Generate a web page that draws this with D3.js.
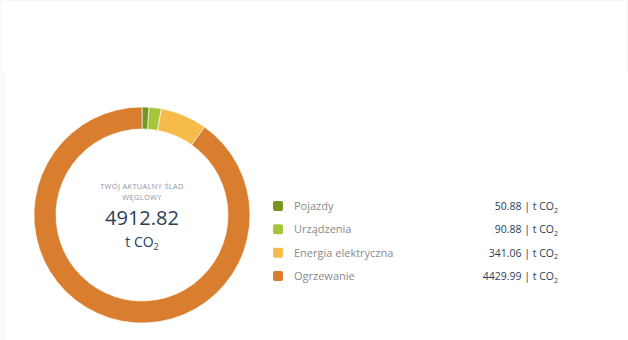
<!DOCTYPE html>
<html>
<head>
<meta charset="utf-8">
<script src="https://cdn.jsdelivr.net/npm/d3@7"></script>
<style>
  html, body { margin: 0; padding: 0; background: #ffffff; }
  svg { display: block; font-family: "Open Sans", "Noto Sans", sans-serif; }
</style>
</head>
<body>
<svg id="chart" width="628" height="340"></svg>
<script>
const categories = ["Pojazdy", "Urządzenia", "Energia elektryczna", "Ogrzewanie"];
const values = [50.88, 90.88, 341.06, 4429.99];
const colors = ["#76961f", "#a5c63b", "#f7bb49", "#d97e2e"];
const totalLabel = "4912.82";
const centerTitle = ["TWÓJ AKTUALNY ŚLAD", "WĘGLOWY"];
const unit = "t CO";

const svg = d3.select("#chart");

// page background pieces
svg.append("rect").attr("x", 0).attr("y", 0).attr("width", 628).attr("height", 340).attr("fill", "#ffffff");
svg.append("rect").attr("x", 0).attr("y", 72).attr("width", 6).attr("height", 268).attr("fill", "#f6faff");
svg.append("path").attr("d", "M0.5,72 V0.5 H627.5 V72").attr("fill", "none").attr("stroke", "#f4f8fc");

const cx = 142, cy = 215, rOuter = 108, rInner = 86;
const data = categories.map((c, i) => ({ name: c, value: values[i], color: colors[i] }));

const pie = d3.pie().value(d => d.value).sort(null);
const arc = d3.arc().innerRadius(rInner).outerRadius(rOuter);

const g = svg.append("g").attr("transform", `translate(${cx},${cy})`);
g.selectAll("path").data(pie(data)).join("path")
  .attr("d", arc)
  .attr("fill", d => d.data.color)
  .attr("stroke", "#ffffff")
  .attr("stroke-width", 0.6);

// center text
g.append("text").attr("text-anchor", "middle").attr("y", -26)
  .attr("font-size", 7.4).attr("fill", "#8c96a3").attr("letter-spacing", 0.35)
  .text(centerTitle[0]);
g.append("text").attr("text-anchor", "middle").attr("y", -15)
  .attr("font-size", 7.4).attr("fill", "#8c96a3").attr("letter-spacing", 0.35)
  .text(centerTitle[1]);
g.append("text").attr("text-anchor", "middle").attr("y", 10)
  .attr("font-size", 20).attr("font-weight", 500).attr("fill", "#2c3e55")
  .text(totalLabel);
const u = g.append("text").attr("text-anchor", "middle").attr("y", 32)
  .attr("font-size", 14).attr("font-weight", 500).attr("fill", "#2c3e55");
u.append("tspan").text(unit);
u.append("tspan").attr("font-size", 9).attr("dy", 3).text("2");

// legend
const rowY = d3.scalePoint().domain(categories).range([206, 276]);
const leg = svg.append("g");
const rows = leg.selectAll("g").data(data).join("g")
  .attr("transform", d => `translate(0,${rowY(d.name)})`);
rows.append("rect").attr("x", 273).attr("y", -5).attr("width", 10).attr("height", 10)
  .attr("rx", 2).attr("fill", d => d.color);
rows.append("text").attr("x", 294).attr("y", 4).attr("font-size", 11).attr("fill", "#8a8a8a")
  .text(d => d.name);
const vt = rows.append("text").attr("x", 558).attr("y", 4).attr("text-anchor", "end")
  .attr("font-size", 10.5).attr("font-weight", 500).attr("fill", "#2c3e55");
vt.append("tspan").text(d => d3.format(".2f")(d.value) + " | " + unit);
vt.append("tspan").attr("font-size", 7).attr("dy", 2.5).text("2");
</script>
</body>
</html>
